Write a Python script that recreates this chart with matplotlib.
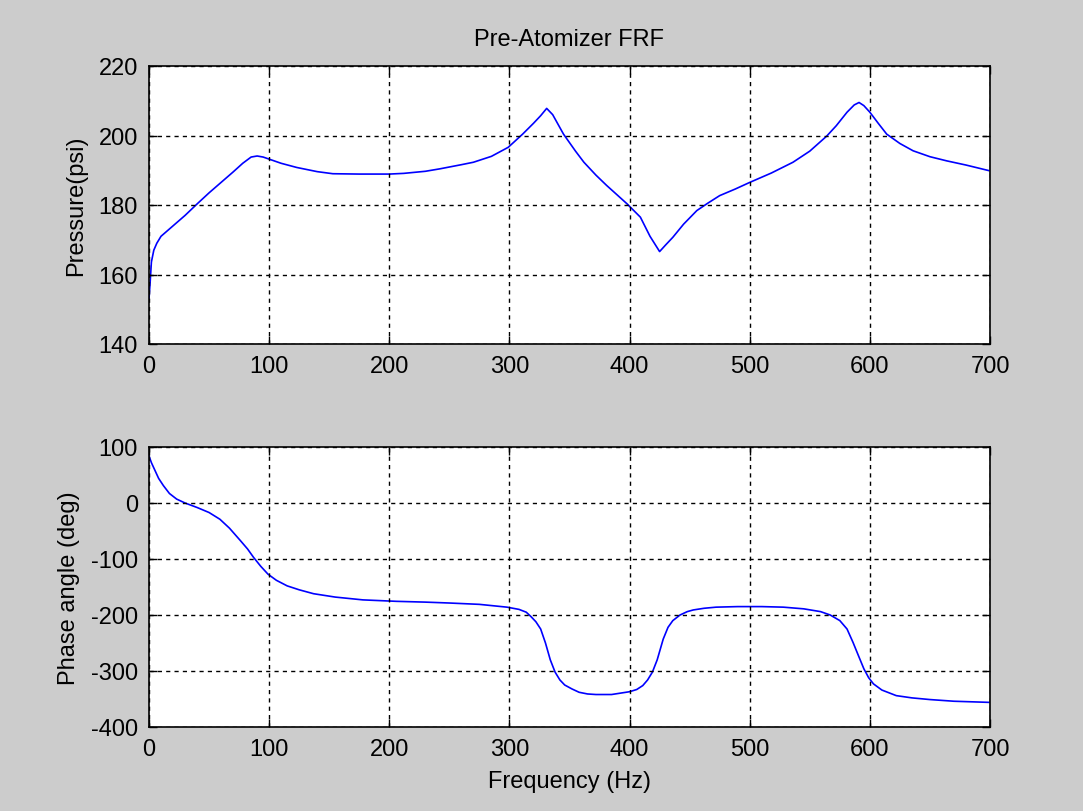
import matplotlib
matplotlib.use("Agg")
import matplotlib.pyplot as plt

# ---- data ----
freq_mag = [0, 1, 2, 4, 6.5, 10, 15, 20, 30, 40, 50, 60, 70, 78, 85, 90, 95, 100,
            110, 123, 140, 153, 175, 200, 212, 230, 242, 260, 270, 285, 299, 311,
            320, 326, 331, 336, 345, 355, 362, 372, 381, 390, 398, 409, 417, 425,
            430, 436, 445, 456, 465, 475, 488, 500, 518, 536, 550, 564, 572, 581,
            587, 591, 595, 600, 607, 614, 625, 636, 650, 664, 680, 699]
pressure = [153, 158, 163.6, 167, 169, 171, 172.5, 174, 177, 180.3, 183.5, 186.5,
            189.5, 192, 193.8, 194.1, 193.8, 193.2, 192, 190.8, 189.6, 189, 188.9,
            188.9, 189.1, 189.7, 190.4, 191.6, 192.3, 194, 196.6, 200.4, 203.5,
            205.7, 207.8, 206, 200.4, 195.5, 192.3, 188.6, 185.6, 182.8, 180.3,
            176.5, 171, 166.6, 168.5, 170.7, 174.5, 178.4, 180.5, 182.7, 184.6,
            186.5, 189.2, 192.3, 195.5, 199.8, 202.8, 206.7, 208.8, 209.5, 208.6,
            206.7, 203.5, 200.4, 197.7, 195.6, 193.9, 192.7, 191.5, 189.9]

freq_ph = [0, 2, 5, 8, 12, 17, 23, 30, 40, 50, 59, 67, 76, 82, 87, 93, 99, 106,
           115, 125, 137, 155, 178, 206, 230, 250, 275, 298, 308, 314, 318, 322,
           326, 330, 334, 338, 342, 346, 352, 358, 365, 372, 385, 400, 406, 411,
           415, 419, 423, 428, 432, 436, 442, 448, 453, 462, 472, 490, 510, 528,
           545, 559, 567, 575, 581, 586, 590, 595, 599, 603, 610, 622, 635, 650,
           670, 699]
phase = [84, 72, 58, 44, 31, 17, 7, 0, -8, -17, -29, -45, -67, -82, -97, -113,
         -127, -138, -148, -155, -162, -168, -173, -175.6, -177, -178.6, -181,
         -186, -190, -195, -203, -212, -225, -250, -280, -302, -316, -325, -332,
         -338, -341, -342, -342, -337, -333, -326, -316, -302, -280, -243, -222,
         -210, -200, -194, -191, -188, -186, -185, -185, -186, -189, -194, -200,
         -210, -225, -249, -270, -296, -312, -323, -334, -344, -348, -351, -354,
         -356]

x_ticks = [0, 100, 200, 300, 400, 500, 600, 700]
p_ticks = [140, 160, 180, 200, 220]
ph_ticks = [-400, -300, -200, -100, 0, 100]

title = "Pre-Atomizer FRF"
ylabel_top = "Pressure(psi)"
ylabel_bot = "Phase angle (deg)"
xlabel = "Frequency (Hz)"

# ---- style ----
plt.rcParams['font.family'] = ['Liberation Sans', 'DejaVu Sans']
plt.rcParams['axes.unicode_minus'] = False
FS = 17

fig = plt.figure(figsize=(10.83, 8.12), dpi=100, facecolor='#cccccc')
W, H = 1083, 812

def make_ax(top_px, bot_px):
    left, right = 149, 990
    return fig.add_axes([left / W, 1 - bot_px / H, (right - left) / W,
                         (bot_px - top_px) / H])

ax1 = make_ax(67, 345)
ax2 = make_ax(448, 728)

for ax in (ax1, ax2):
    ax.set_facecolor('white')
    for s in ax.spines.values():
        s.set_linewidth(1.2)
        s.set_color('black')
    ax.tick_params(direction='in', length=6, width=1, top=True, right=True,
                   labelsize=FS, colors='black', pad=8)
    ax.grid(True, color='black', linestyle=(0, (3, 3)), linewidth=1.0)
    ax.set_axisbelow(False)
    ax.set_xlim(0, 700)
    ax.set_xticks(x_ticks)

ax1.plot(freq_mag, pressure, color='#0000ff', linewidth=1.2)
ax1.set_ylim(140, 220)
ax1.set_yticks(p_ticks)
ax1.set_ylabel(ylabel_top, fontsize=FS, labelpad=8)
ax1.set_title(title, fontsize=FS, pad=15)

ax2.plot(freq_ph, phase, color='#0000ff', linewidth=1.2)
ax2.set_ylim(-400, 100)
ax2.set_yticks(ph_ticks)
ax2.set_ylabel(ylabel_bot, fontsize=FS, labelpad=8)
ax2.set_xlabel(xlabel, fontsize=FS, labelpad=7)

fig.savefig("out.png", dpi=100, facecolor=fig.get_facecolor())
